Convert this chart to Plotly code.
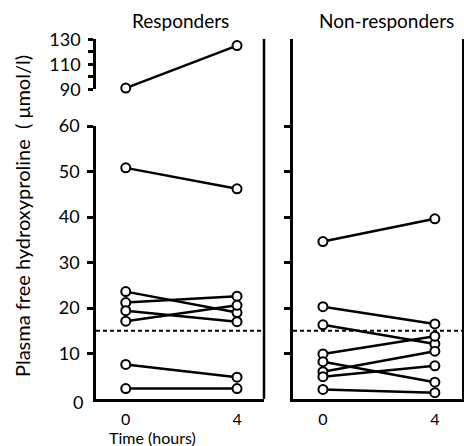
import plotly.graph_objects as go

# ---- data ----
times = [0, 4]
time_labels = ["0", "4"]

# Responders: each entry is (value at 0 h, value at 4 h)
resp_upper_0h = [91.0]
resp_upper_4h = [125.0]
resp_0h = [50.8, 23.6, 21.2, 19.4, 17.1, 7.6, 2.3]
resp_4h = [46.2, 19.0, 22.6, 17.0, 20.6, 4.8, 2.3]

# Non-responders
nonresp_0h = [34.6, 20.3, 16.3, 9.9, 8.2, 6.0, 4.9, 2.1]
nonresp_4h = [39.6, 16.5, 12.1, 13.8, 3.7, 10.5, 7.3, 1.4]

threshold = [15.0]

lower_ticks = [10, 20, 30, 40, 50, 60]
lower_ticktext = ["10", "20", "30", "40", "50", "60"]
upper_ticks = [90, 100, 110, 120, 130]
upper_ticktext = ["90", "", "110", "", "130"]

panel_titles = ["Responders", "Non-responders"]
y_title = "Plasma free hydroxyproline  ( \u03bcmol/l)"
x_title = "Time (hours)"

# ---- layout helpers (pixel -> paper) ----
W, H = 464, 446
def px(x):
    return x / W
def py(y):
    return 1 - y / H

FONT = "Lato"
LW = 2.5
marker = dict(symbol="circle", size=9, color="white", line=dict(color="black", width=2))
line = dict(color="black", width=2.5)

fig = go.Figure()

for a, b in zip(resp_upper_0h, resp_upper_4h):
    fig.add_trace(go.Scatter(x=times, y=[a, b], mode="lines+markers", line=line,
                             marker=marker, xaxis="x", yaxis="y2", showlegend=False,
                             cliponaxis=False))
for a, b in zip(resp_0h, resp_4h):
    fig.add_trace(go.Scatter(x=times, y=[a, b], mode="lines+markers", line=line,
                             marker=marker, xaxis="x", yaxis="y", showlegend=False,
                             cliponaxis=False))
for a, b in zip(nonresp_0h, nonresp_4h):
    fig.add_trace(go.Scatter(x=times, y=[a, b], mode="lines+markers", line=line,
                             marker=marker, xaxis="x2", yaxis="y3", showlegend=False,
                             cliponaxis=False))

xr = [-1.07, 4.97]
lower_scale = 60 / (399 - 126)  # units per pixel
y3_top = (399 - 39) * lower_scale

tick_font = dict(family=FONT, size=18, color="black")
xtick_font = dict(family=FONT, size=16, color="black")
axis_common = dict(showgrid=False, zeroline=False, linecolor="black", linewidth=LW,
                   tickcolor="black", tickwidth=LW, automargin=False)

fig.update_layout(
    template="none",
    width=W, height=H, margin=dict(l=0, r=0, t=0, b=0, pad=0), autosize=False,
    paper_bgcolor="white", plot_bgcolor="white",
    xaxis=dict(domain=[px(96), px(264)], range=xr, anchor="y", showline=True,
               tickvals=times, ticktext=time_labels, ticks="", ticklabelstandoff=4,
               tickfont=xtick_font, **axis_common),
    xaxis2=dict(domain=[px(293), px(462)], range=xr, anchor="y3", showline=True,
                tickvals=times, ticktext=time_labels, ticks="", ticklabelstandoff=4,
                tickfont=xtick_font, **axis_common),
    yaxis=dict(domain=[py(399), py(126)], range=[0, 60], anchor="x", showline=True,
               tickvals=lower_ticks, ticktext=lower_ticktext, ticks="outside", ticklen=6,
               ticklabelstandoff=4, tickfont=tick_font, **axis_common),
    yaxis2=dict(domain=[py(89.3), py(39.3)], range=[90, 130], anchor="x", showline=True,
                tickvals=upper_ticks, ticktext=upper_ticktext, ticks="outside", ticklen=5,
                ticklabelstandoff=4, tickfont=tick_font, **axis_common),
    yaxis3=dict(domain=[py(399), py(39)], range=[0, y3_top], anchor="x2", showline=True,
                mirror=True, tickvals=lower_ticks, showticklabels=False, ticks="outside",
                ticklen=6, **axis_common),
)

# threshold dashed lines (data-driven y)
for t in threshold:
    fig.add_shape(type="line", xref="x domain", yref="y", x0=0, x1=1, y0=t, y1=t,
                  line=dict(color="black", width=2, dash="4px,3px"))
    fig.add_shape(type="line", xref="x2 domain", yref="y3", x0=0, x1=1.01, y0=t, y1=t,
                  line=dict(color="black", width=2, dash="4px,3px"))

# right border of responders panel (full height)
fig.add_shape(type="line", xref="paper", yref="paper", x0=px(264), x1=px(264),
              y0=py(399), y1=py(39), line=dict(color="black", width=LW))

ann_font = dict(family=FONT, size=19, color="black")
def ann(text, x, y, **kw):
    fig.add_annotation(text=text, x=x, y=y, showarrow=False, xanchor="center",
                       yanchor="middle", font=kw.pop("font", ann_font), **kw)

ann(panel_titles[0], px(180), py(20), xref="paper", yref="paper")
ann(panel_titles[1], px(386), py(20), xref="paper", yref="paper")
ann(y_title, px(22), py(216), xref="paper", yref="paper", textangle=-90,
    font=dict(family=FONT, size=20, color="black"))
ann(x_title, px(152), py(437), xref="paper", yref="paper",
    font=dict(family=FONT, size=16, color="black"))
ann("0", px(78), 0, xref="paper", yref="y", yshift=-3, font=tick_font)

fig.write_html("out.html")
